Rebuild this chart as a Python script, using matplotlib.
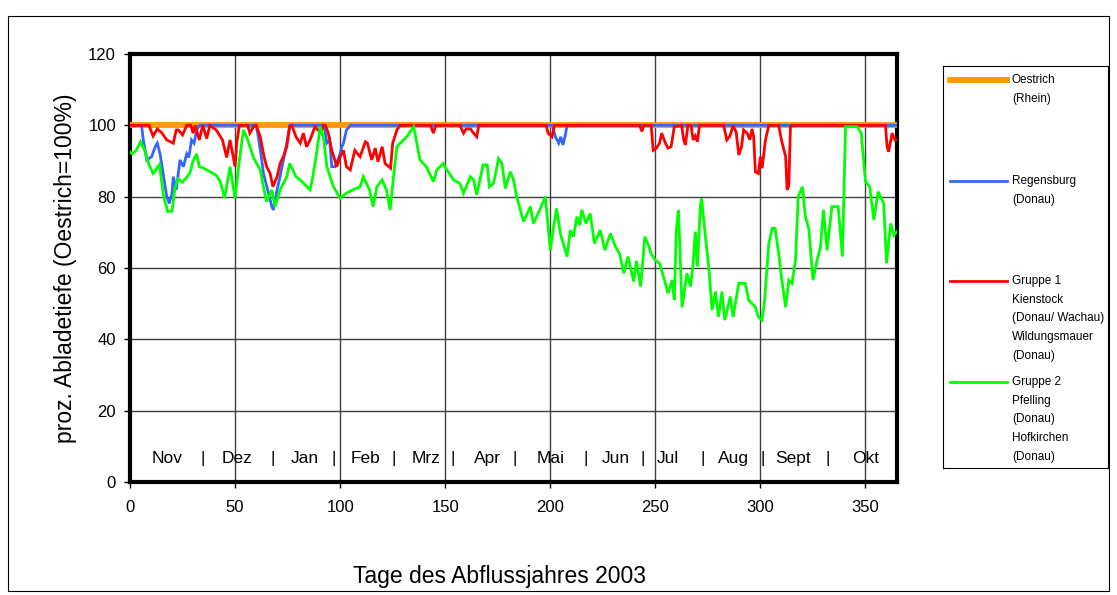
"""Prozentuale Abladetiefe im Abflussjahr 2003 (Oestrich = 100 %)."""

import matplotlib
matplotlib.use("Agg")
import matplotlib.pyplot as plt
from matplotlib.lines import Line2D
from matplotlib.patches import Rectangle

plt.rcParams["font.family"] = ["Liberation Sans", "DejaVu Sans"]

# --- data (day of hydrological year, percent) ---
oestrich_days = [0, 365]
oestrich_vals = [100, 100]

regensburg_days = [0, 5.5, 6.3, 8, 10.3, 12, 13, 14.3, 16, 17.5, 18.7, 20, 20.6, 22, 23.8,
                   25.4, 27, 28, 29.3, 30.5, 31.7, 33, 60, 61, 62.7, 63.5, 65.9, 67.5, 68.2,
                   70, 71.4, 73, 74.6, 76, 92, 92.8, 93.6, 95, 96, 97.6, 100, 100.8, 101.6,
                   103, 105, 201, 202.4, 204, 205, 206, 207, 208, 365]
regensburg_vals = [100, 100, 96, 90.3, 91.2, 94, 95, 92, 85.6, 80, 78.1, 81, 85.6, 81.9, 90.3,
                   88.4, 92, 91, 95.9, 95, 98.7, 100, 100, 97, 90.3, 86.5, 81, 77.2, 76.3,
                   81.9, 85.6, 90.3, 95, 100, 100, 98.7, 95, 96, 88.4, 88.4, 92, 94, 95,
                   98.7, 100, 100, 96.8, 95, 96.8, 94.5, 96.8, 100, 100]

gruppe1_days = [0, 9, 11, 13, 15, 17.5, 20.6, 22, 23, 25, 27, 29, 30, 31, 32, 33, 34.6, 36.5,
                38, 41, 42, 44, 46, 47.6, 50, 50.8, 52, 56, 57, 58.7, 60, 62, 63.5, 65, 66.7,
                68, 70, 71.4, 73, 74.6, 76, 77, 79, 81, 82.5, 84, 85.7, 87, 88, 91, 92, 93,
                94.4, 96, 97, 98.4, 100, 101.6, 103, 104.8, 107, 109.5, 112, 113, 115, 116.7,
                118, 120, 121.4, 124, 125, 127, 128.6, 143, 144.4, 145.5, 157, 158.7, 160,
                162, 163.5, 165, 166, 198, 199, 200.8, 202, 242.5, 243.6, 244.5, 248, 249,
                250.5, 252, 253, 254.8, 256, 257.5, 259, 262.5, 263.5, 264.3, 265.5, 267,
                268, 269, 270, 271, 282.5, 284, 285.5, 287, 288.5, 289.7, 291, 292, 293.7,
                295, 296, 296.8, 297.6, 299, 300, 300.8, 302.4, 304, 308.7, 310, 312, 312.7,
                313.5, 314.3, 315, 359.5, 360.3, 361, 362.7, 364, 365]
gruppe1_vals = [100, 100, 97, 99, 98, 95.9, 95, 98.7, 98.7, 97.3, 100, 100, 97.8, 100, 98,
                95.9, 100, 96.3, 100, 98.7, 97.8, 95.9, 91, 95.9, 88.4, 95, 100, 100, 97.8,
                99.6, 100, 96.8, 92, 88.4, 86.5, 82.8, 85.6, 89.3, 91.2, 94, 99.6, 100, 96.8,
                95, 97.8, 94, 95.9, 98, 99.6, 97.8, 100, 100, 97.8, 93, 91.2, 88.4, 91.2, 93,
                88.4, 87.5, 93, 91.2, 95.4, 95, 90.3, 93.6, 89.8, 94, 89.3, 88, 95, 98.7, 100,
                100, 97.8, 100, 100, 97.8, 99, 99, 97.8, 96.8, 100, 100, 97.8, 96.8, 100, 100,
                98.3, 100, 100, 93, 93.6, 95, 97.8, 95, 93.6, 94, 99.6, 100, 95.9, 94.5, 100,
                100, 95.9, 97, 95.4, 100, 100, 95.9, 97, 100, 98, 91.7, 94, 98.7, 97.8, 96,
                99, 96.8, 87, 86.5, 91.2, 88, 95.9, 100, 100, 95.9, 91.2, 81.9, 83, 99.6, 100,
                100, 94, 92.6, 97.8, 95.9, 95.9]

gruppe2_days = [0, 1, 3, 5, 7, 9, 11, 14, 16, 18, 20, 21.5, 23, 25, 28.5, 30, 31.7, 33, 35,
                38, 41, 43, 45, 47.6, 50, 52, 54, 56, 58.7, 62, 63.5, 65, 67.5, 69, 71.4, 74.6,
                76, 79, 81, 83, 85.7, 87, 89, 90.5, 92, 93.7, 96.8, 100, 103, 106, 109.5, 111,
                114, 115.7, 117.5, 120, 122, 123.8, 125.4, 127, 128.6, 131.7, 135, 136.5, 138,
                141, 144.4, 146, 149, 150.8, 154, 157, 158.7, 162, 163.5, 165, 168, 170, 171,
                173, 175.4, 177, 178.6, 181, 182.5, 184, 187.3, 190.5, 192, 195, 197.6, 199,
                200, 201.6, 203, 204.8, 208, 209.5, 211, 212.7, 214, 215, 217, 219, 221, 223.8,
                226, 228.6, 231, 233, 235, 237, 239.7, 241, 243, 245, 247, 248, 250, 252,
                254.8, 256, 258, 259, 260, 261, 262.7, 265, 266.7, 268, 269, 270, 271.4, 272,
                274, 275.4, 277, 278.6, 280, 281.7, 283, 285.7, 287, 289.7, 292.8, 294.4, 296,
                297.6, 299, 300.8, 302, 304, 305.6, 307, 308.7, 310, 312, 313.5, 315, 316.7,
                318, 320, 321.4, 323, 325, 327, 328.6, 330, 331.7, 334, 337, 339, 340.5, 346,
                348, 350, 352, 354, 356, 358.7, 360, 362, 363.5, 365]
gruppe2_vals = [92.5, 92, 93, 95.4, 93, 89, 86.5, 89, 80, 75.8, 76, 82.8, 85, 84, 86.6, 90,
                92, 88.4, 88, 87, 86, 84.2, 79.6, 88.4, 79.6, 90, 98.7, 96, 91, 87.5, 82.8,
                78.6, 81.9, 77.2, 81.9, 85.6, 89.3, 85.6, 84.7, 83.5, 81.9, 85.6, 93, 99.6,
                96.8, 88.4, 82.8, 79.6, 81, 81.9, 82.8, 85.6, 81.9, 77.2, 82.8, 84.7, 81.9,
                76.3, 85.6, 94, 95, 96.8, 99.6, 95, 90.3, 88.4, 84.2, 87.5, 89.3, 87.5, 84.7,
                83.7, 81, 85.6, 84.7, 80.5, 88.9, 88.9, 82.8, 83.7, 90.7, 89.3, 82.3, 87, 84.7,
                80, 73, 77.2, 72.5, 76.3, 80, 71.6, 65, 71.6, 76.7, 69.7, 63.2, 70.6, 68.8,
                74.4, 72, 76.3, 72.5, 75.3, 66.9, 70.6, 65, 69.7, 66, 64, 58.5, 63.2, 56.2,
                62, 54.8, 68.8, 66, 64, 62.2, 61.3, 55.7, 52.9, 56.6, 51, 70.6, 76.3, 49,
                58.5, 54.8, 61.3, 70.2, 60.4, 77.2, 79.5, 67.8, 60.4, 48.2, 53.4, 46.3, 53.4,
                45.4, 52, 46.3, 55.7, 55.7, 51, 50, 49, 46.3, 45.4, 51, 66.9, 71.1, 71.1, 64,
                57.5, 49, 56.6, 55.7, 62.2, 80, 82.8, 74.4, 71.1, 56.6, 62.2, 66, 76.3, 65,
                77.2, 77.2, 63.2, 99.6, 99.6, 97.8, 84.2, 82.8, 73.5, 81.4, 78.1, 61.3, 72.5,
                69.2, 70.2]

months = ["Nov", "|", "Dez", "|", "Jan", "|", "Feb", "|", "Mrz", "|", "Apr", "|", "Mai", "|",
          "Jun", "|", "Jul", "|", "Aug", "|", "Sept", "|", "Okt"]
month_pos = [17.8, 34.5, 51, 67.9, 83.3, 97, 112, 125.7, 141, 153.6, 170, 183, 200, 216.7,
             231, 244, 256, 272.6, 287, 301, 315.5, 332, 350]

legend_entries = [
    ("Oestrich", ["(Rhein)"]),
    ("Regensburg", ["(Donau)"]),
    ("Gruppe 1", ["Kienstock", "(Donau/ Wachau)", "Wildungsmauer", "(Donau)"]),
    ("Gruppe 2", ["Pfelling", "(Donau)", "Hofkirchen", "(Donau)"]),
]

W, H = 1117, 595
fig = plt.figure(figsize=(W / 100, H / 100), dpi=100)
fig.patch.set_facecolor("white")

# outer chart-area border
fig.add_artist(Rectangle((8 / W, 4 / H), 1101 / W, (H - 16 - 4) / H, transform=fig.transFigure,
                         fill=False, edgecolor="black", linewidth=0.8))

ax = fig.add_axes([130 / W, 1 - 482 / H, (897 - 130) / W, (482 - 54) / H])

styles = [
    (oestrich_days, oestrich_vals, "#FF9900", 4.2),
    (regensburg_days, regensburg_vals, "#3366FF", 2.0),
    (gruppe1_days, gruppe1_vals, "#FF0000", 2.0),
    (gruppe2_days, gruppe2_vals, "#00FF00", 2.0),
]
for i, (d, v, c, lw) in enumerate(styles):
    ax.plot(d, v, color=c, linewidth=lw, solid_joinstyle="miter", zorder=3 + i)

ax.set_xlim(0, 365)
ax.set_ylim(0, 120)
ax.set_xticks(range(0, 351, 50))
ax.set_yticks(range(0, 121, 20))
ax.tick_params(axis="both", labelsize=12, direction="out", length=4, width=1)
ax.tick_params(axis="x", pad=9)
ax.tick_params(axis="y", pad=6)
ax.grid(True, color="#404040", linewidth=1.0)
ax.set_axisbelow(True)
for s in ax.spines.values():
    s.set_linewidth(3)

for label, x in zip(months, month_pos):
    ax.text(x, 4.5, label, ha="center", va="bottom", fontsize=12.5, zorder=10)

ax.set_ylabel("proz. Abladetiefe (Oestrich=100%)", fontsize=16.5, labelpad=8)
ax.set_xlabel("Tage des Abflussjahres 2003", fontsize=16.5)
ax.xaxis.set_label_coords(0.482, -0.193)

# legend box, drawn in its own axes with pixel-like coordinates
lax = fig.add_axes([943 / W, 1 - 468 / H, (1108 - 943) / W, (468 - 66) / H])
lax.set_xlim(943, 1108)
lax.set_ylim(468, 66)
lax.set_xticks([])
lax.set_yticks([])
for s in lax.spines.values():
    s.set_linewidth(0.8)

key_y = [80, 181, 281, 382]
line_w = [4.2, 2.0, 2.0, 2.0]
for (name, extra), y, (_, _, c, _), lw in zip(legend_entries, key_y, styles, line_w):
    lax.add_line(Line2D([950, 1007], [y, y], color=c, linewidth=lw))
    lax.text(1012, y, name, fontsize=8.5, va="center", ha="left")
    for k, t in enumerate(extra):
        lax.text(1012, y + 18.7 * (k + 1), t, fontsize=8.5, va="center", ha="left",
                 clip_on=False)

fig.savefig("out.png", dpi=100)
